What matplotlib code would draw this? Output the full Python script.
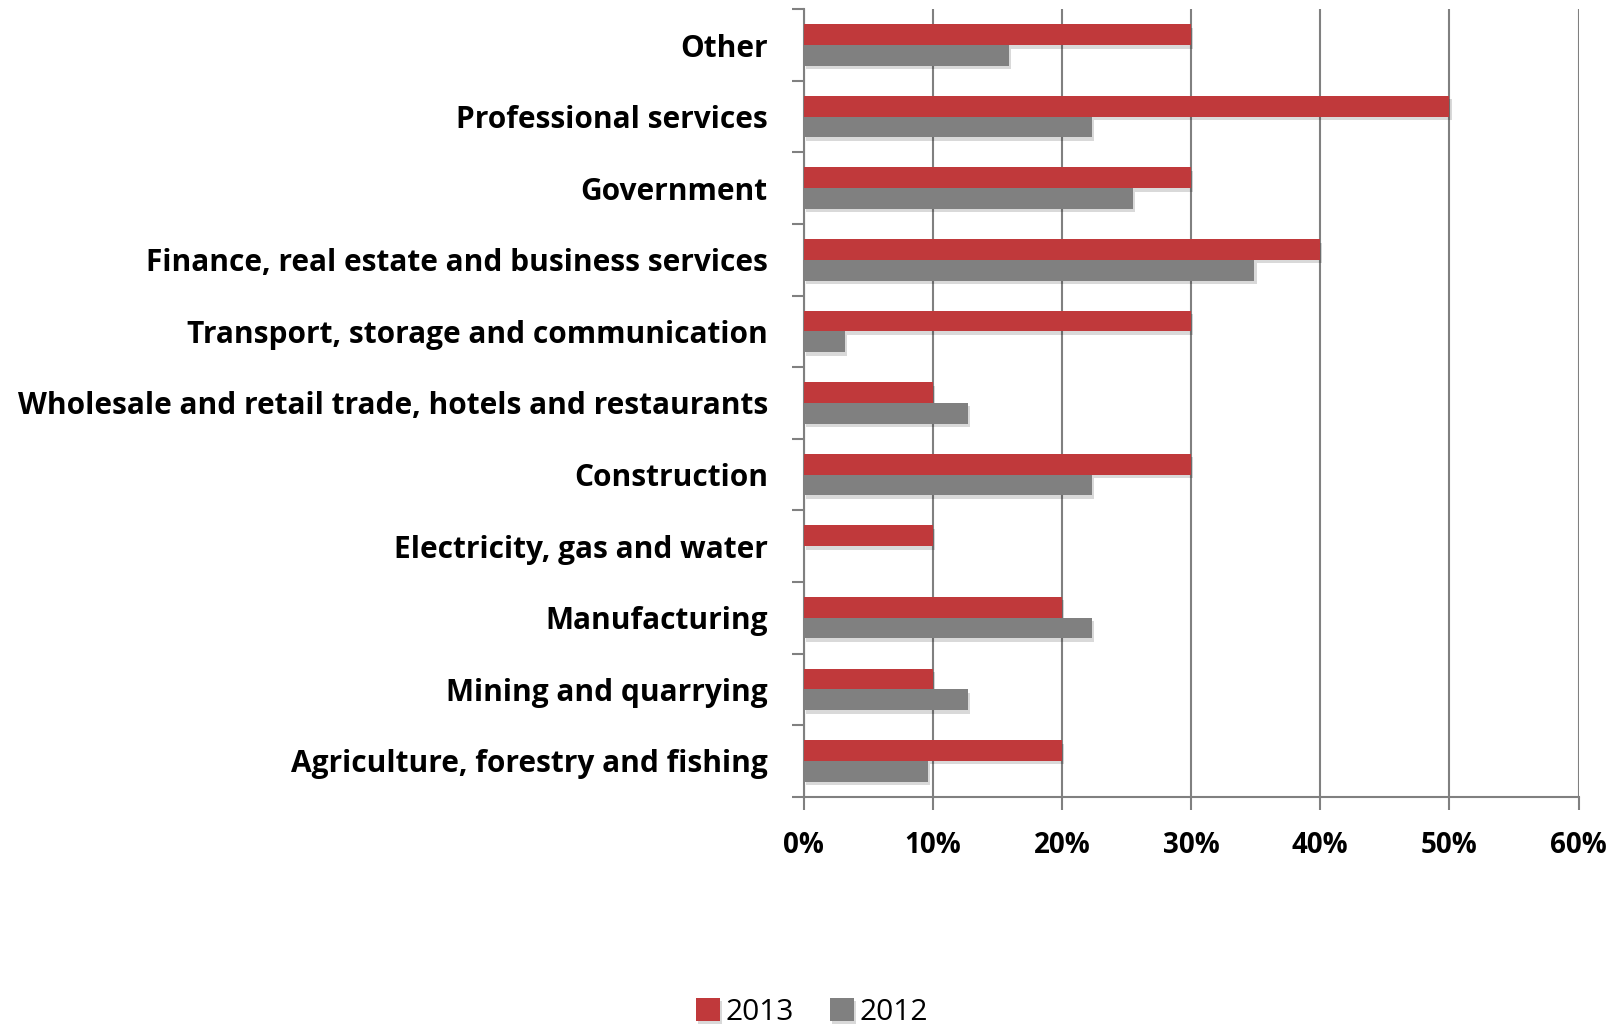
import matplotlib.pyplot as plt
import matplotlib.patheffects as pe
import numpy as np

# categories bottom -> top
sectors = ['Agriculture, forestry and fishing', 'Mining and quarrying', 'Manufacturing',
           'Electricity, gas and water', 'Construction',
           'Wholesale and retail trade, hotels and restaurants',
           'Transport, storage and communication',
           'Finance, real estate and business services', 'Government',
           'Professional services', 'Other']
share2013 = [20, 10, 20, 10, 30, 10, 30, 40, 30, 50, 30]
share2012 = [9.6, 12.7, 22.3, 0, 22.3, 12.7, 3.2, 34.9, 25.5, 22.3, 15.9]
xticks = [0, 10, 20, 30, 40, 50, 60]

plt.rcParams['font.family'] = ['Open Sans', 'DejaVu Sans']

fig = plt.figure(figsize=(16.24, 10.28), dpi=100)
ax = fig.add_axes([0.495, 0.225, 0.477, 0.766])

y = np.arange(len(sectors))
h = 0.29
shadow = [pe.SimplePatchShadow(offset=(1.5, -2.5), shadow_rgbFace='black', alpha=0.15), pe.Normal()]
b1 = ax.barh(y + h / 2, share2013, height=h, color='#c0393b', label='2013', zorder=3)
b2 = ax.barh(y - h / 2, share2012, height=h, color='#808080', label='2012', zorder=3)
for b in list(b1) + list(b2):
    if b.get_width() > 0:
        b.set_path_effects(shadow)

ax.set_xlim(0, 60)
ax.set_ylim(-0.5, len(sectors) - 0.5)
ax.set_xticks(xticks)
ax.set_xticklabels([f'{v}%' for v in xticks], fontsize=20, fontweight='bold')
ax.set_yticks(y)
ax.set_yticklabels(sectors, fontsize=21.5, fontweight='bold')
ax.set_yticks(np.arange(-0.5, len(sectors), 1), minor=True)
ax.tick_params(axis='y', which='major', length=0, pad=26)
ax.tick_params(axis='y', which='minor', length=9, color='#808080', width=1.5)
ax.tick_params(axis='x', length=9, color='#808080', width=1.5, pad=16)
ax.grid(axis='x', color='#808080', linewidth=1.5, zorder=0)
for s in ['top', 'right']:
    ax.spines[s].set_visible(False)
for s in ['left', 'bottom']:
    ax.spines[s].set_color('#808080')
    ax.spines[s].set_linewidth(1.5)

fig.legend(handles=[b1, b2], loc='lower center', bbox_to_anchor=(0.5, -0.025), ncol=2,
           frameon=False, fontsize=21.5, handlelength=0.8, handleheight=0.8,
           handletextpad=0.2, columnspacing=1.2)

fig.savefig('out.png', dpi=100)
